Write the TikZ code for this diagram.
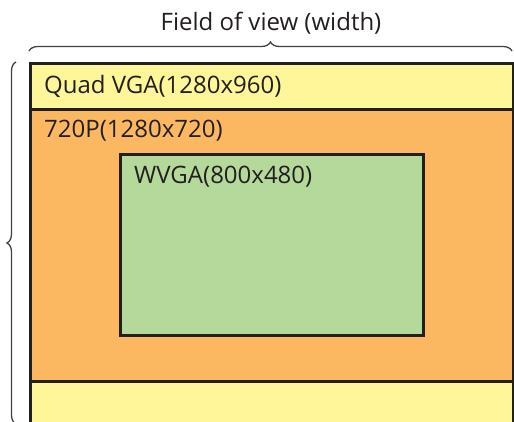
\documentclass[tikz,border=0pt]{standalone}
\usepackage{fontspec}
\setmainfont{Open Sans}
\usetikzlibrary{decorations.pathreplacing}
\definecolor{qyel}{RGB}{255,245,153}
\definecolor{qora}{RGB}{252,184,96}
\definecolor{qgrn}{RGB}{181,216,155}
\definecolor{qline}{RGB}{35,31,32}
\tikzset{
  box/.style={draw=qline,line width=2.6pt},
  lbl/.style={anchor=west,inner sep=0pt,font=\fontsize{24}{28}\selectfont,text=qline},
  brc/.style={draw=qline!85,line width=1.3pt,decorate,decoration={brace,amplitude=9pt}}
}
\begin{document}
\begin{tikzpicture}[x=1pt,y=-1pt]
\useasboundingbox (0,0) rectangle (514,421);
\clip (0,0) rectangle (514,421);
\fill[white] (0,0) rectangle (514,421);
\node[box,fill=qyel,minimum width=483,minimum height=380,anchor=north west,inner sep=0pt] (qvga) at (29,62) {};
\node[box,fill=qora,minimum width=483,minimum height=272,anchor=north west,inner sep=0pt] (p720) at (29,108) {};
\node[box,fill=qgrn,minimum width=303,minimum height=181,anchor=north west,inner sep=0pt] (wvga) at (119,153) {};
\node[lbl] (t1) at (44,86) {Quad VGA(1280x960)};
\node[lbl] (t2) at (44,131) {720P(1280x720)};
\node[lbl] (t3) at (134,177) {WVGA(800x480)};
\coordinate (tl) at (29,51);
\coordinate (tr) at (512,51);
\coordinate (lb) at (16,424);
\coordinate (lt) at (16,62);
\draw[brc] (tl) -- (tr);
\draw[brc] (lb) -- (lt);
\node[inner sep=0pt,font=\fontsize{24}{28}\selectfont,text=qline] (title) at (271,23) {Field of view (width)};
\end{tikzpicture}
\end{document}
